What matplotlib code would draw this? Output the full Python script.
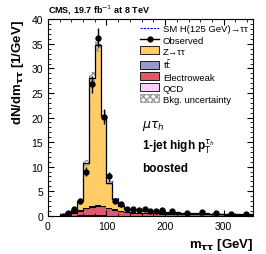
import numpy as np
import matplotlib
matplotlib.use("Agg")
import matplotlib.pyplot as plt
from matplotlib.patches import Patch
from matplotlib.lines import Line2D
from matplotlib.ticker import MultipleLocator

# bin edges (GeV)
edges = [20, 30, 40, 50, 60, 70, 80, 90, 100, 110, 120, 130, 140, 150,
         160, 170, 180, 190, 200, 225, 250, 275, 300, 325, 350]

# stacked backgrounds, dN/dm per bin
qcd   = [0.01, 0.03, 0.05, 0.06, 0.07, 0.07, 0.07, 0.06, 0.05, 0.04, 0.04, 0.03, 0.03,
         0.02, 0.02, 0.02, 0.02, 0.02, 0.01, 0.01, 0.01, 0.01, 0.01, 0.01]
ewk   = [0.05, 0.30, 0.60, 1.00, 1.45, 1.80, 1.95, 1.85, 1.50, 1.20, 0.90, 0.70, 0.60,
         0.55, 0.50, 0.48, 0.45, 0.42, 0.38, 0.34, 0.30, 0.26, 0.22, 0.18]
ttbar = [0.00, 0.02, 0.05, 0.08, 0.10, 0.12, 0.13, 0.13, 0.12, 0.12, 0.11, 0.10, 0.10,
         0.09, 0.09, 0.08, 0.08, 0.08, 0.07, 0.07, 0.06, 0.05, 0.04, 0.04]
ztt   = [0.03, 0.13, 0.45, 1.85, 9.10, 26.0, 32.7, 18.3, 5.00, 2.00, 1.00, 0.60, 0.50,
         0.45, 0.40, 0.35, 0.35, 0.30, 0.25, 0.20, 0.16, 0.12, 0.08, 0.06]
higgs = [0.00, 0.00, 0.00, 0.02, 0.05, 0.10, 0.15, 0.25, 0.35, 0.30, 0.25, 0.15, 0.10,
         0.08, 0.06, 0.04, 0.03, 0.02, 0.02, 0.01, 0.01, 0.01, 0.00, 0.00]
unc   = [0.02, 0.05, 0.10, 0.20, 0.60, 1.20, 1.40, 0.90, 0.35, 0.20, 0.12, 0.08, 0.07,
         0.06, 0.06, 0.05, 0.05, 0.05, 0.04, 0.04, 0.03, 0.03, 0.02, 0.02]

# observed data
obs     = [0.05, 0.50, 1.30, 3.00, 9.00, 26.8, 36.3, 20.2, 8.00, 3.10, 2.30, 1.30, 1.30,
           1.20, 1.30, 0.90, 1.00, 1.20, 1.00, 0.60, 0.70, 0.50, 0.40, 0.30]
obs_err = [0.10, 0.25, 0.40, 0.60, 1.00, 1.70, 1.95, 1.45, 0.90, 0.55, 0.50, 0.40, 0.40,
           0.35, 0.35, 0.30, 0.30, 0.35, 0.20, 0.15, 0.17, 0.14, 0.13, 0.11]

edges = np.array(edges)
centers = 0.5 * (edges[:-1] + edges[1:])
stack = [("QCD", qcd, "#FFCCFF"), ("Electroweak", ewk, "#DE5A6A"),
         ("tt", ttbar, "#9999CC"), ("Z", ztt, "#FFCC66")]

plt.rcParams["font.family"] = ["Liberation Sans", "DejaVu Sans"]
fig = plt.figure(figsize=(2.66, 2.55), dpi=100)
ax = fig.add_axes([0.18, 0.15, 0.771, 0.77])

base = np.zeros(len(qcd))
for name, vals, col in stack:
    top = base + np.array(vals)
    ax.stairs(top, edges, baseline=base, fill=True, color=col, lw=0)
    ax.stairs(top, edges, color="black", lw=0.8)
    base = top

tot = base
ax.stairs(tot + np.array(higgs), edges, color="blue", lw=0.8, ls=(0, (2, 1)))
ax.stairs(tot + np.array(unc), edges, baseline=tot - np.array(unc), fill=True,
          facecolor="none", edgecolor="#999999", hatch="xxxxx", lw=0)
ax.stairs(tot, edges, color="black", lw=0.8)

ax.errorbar(centers, obs, yerr=obs_err, fmt="o", color="black", ms=3.5,
            elinewidth=1, capsize=0)

ax.set_xlim(0, 350)
ax.set_ylim(0, 40)
ax.xaxis.set_major_locator(MultipleLocator(100))
ax.xaxis.set_minor_locator(MultipleLocator(20))
ax.yaxis.set_major_locator(MultipleLocator(5))
ax.yaxis.set_minor_locator(MultipleLocator(1))
ax.tick_params(which="both", direction="in", top=True, right=True, labelsize=7.5)
ax.tick_params(which="major", length=4)
ax.tick_params(which="minor", length=2)

ax.set_ylabel(r"dN/dm$_{\mathbf{\tau\tau}}$ [1/GeV]", fontsize=9.5,
              fontweight="bold", loc="top", labelpad=4)
ax.set_xlabel(r"m$_{\mathbf{\tau\tau}}$ [GeV]", fontsize=9.5,
              fontweight="bold", loc="right", labelpad=4)
ax.text(0.0, 1.015, r"CMS, 19.7 fb$^{-1}$ at 8 TeV", transform=ax.transAxes,
        fontsize=6.5, fontweight="bold", va="bottom")

ax.text(0.46, 0.45, r"$\mu\tau_h$", transform=ax.transAxes, fontsize=9)
ax.text(0.46, 0.34, r"1-jet high p$_\mathrm{T}^{\tau_h}$", transform=ax.transAxes,
        fontsize=8.5, fontweight="bold")
ax.text(0.46, 0.23, "boosted", transform=ax.transAxes,
        fontsize=8.5, fontweight="bold")

handles = [
    Line2D([], [], color="blue", lw=0.8, ls=(0, (2, 1))),
    Line2D([], [], color="black", marker="o", ms=3.5, lw=1),
    Patch(facecolor="#FFCC66", edgecolor="black", lw=0.6),
    Patch(facecolor="#9999CC", edgecolor="black", lw=0.6),
    Patch(facecolor="#DE5A6A", edgecolor="black", lw=0.6),
    Patch(facecolor="#FFCCFF", edgecolor="black", lw=0.6),
    Patch(facecolor="white", edgecolor="#999999", hatch="xxxxx", lw=0.6),
]
labels = ["SM H(125 GeV)\u2192\u03c4\u03c4", "Observed",
          "Z\u2192\u03c4\u03c4", r"t$\bar{\mathrm{t}}$", "Electroweak", "QCD",
          "Bkg. uncertainty"]
ax.legend(handles, labels, loc="upper left", frameon=False, fontsize=6.8,
          handlelength=2.0, handleheight=0.9, labelspacing=0.2,
          borderaxespad=0.0, borderpad=0.0, handletextpad=0.4,
          bbox_to_anchor=(0.45, 0.975))

fig.savefig("out.png", dpi=100)
